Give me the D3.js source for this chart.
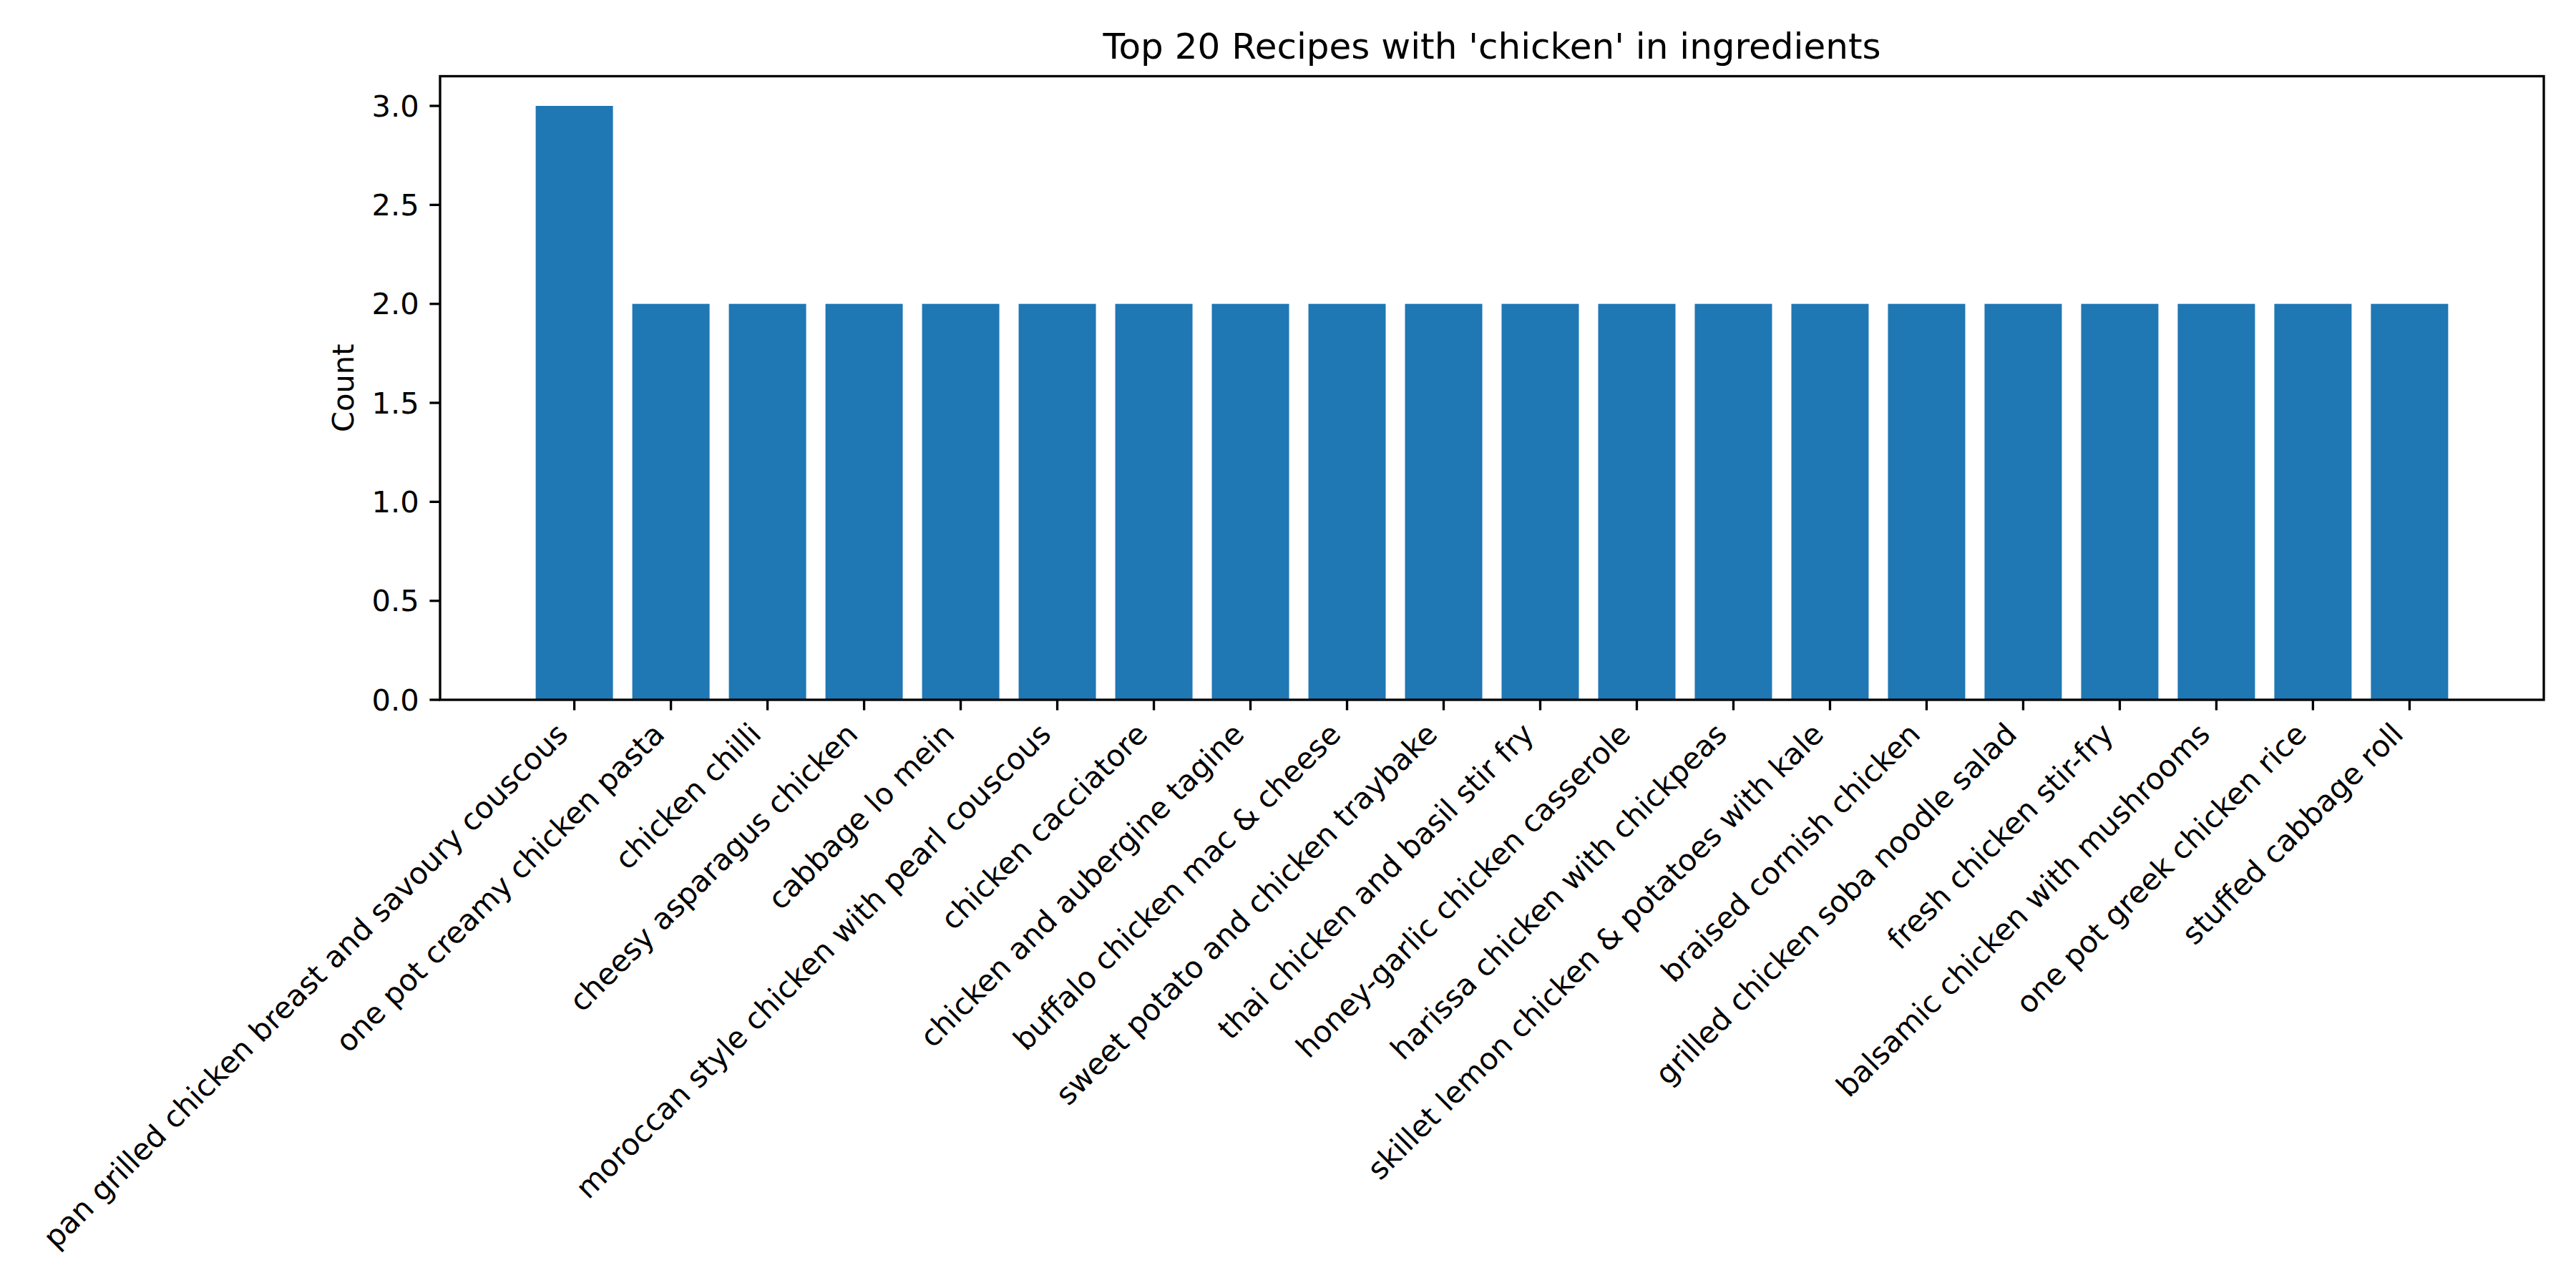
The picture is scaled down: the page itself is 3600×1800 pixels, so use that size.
<!DOCTYPE html>
<html>
<head>
<meta charset="utf-8">
<script src="https://cdn.jsdelivr.net/npm/d3@7"></script>
<style>
  html, body { margin: 0; padding: 0; background: #fff; }
  svg { display: block; }
  text { font-family: "DejaVu Sans", sans-serif; fill: #000; }
</style>
</head>
<body>
<svg id="chart" width="3600" height="1800"></svg>
<script>
const recipes = [
  "pan grilled chicken breast and savoury couscous",
  "one pot creamy chicken pasta",
  "chicken chilli",
  "cheesy asparagus chicken",
  "cabbage lo mein",
  "moroccan style chicken with pearl couscous",
  "chicken cacciatore",
  "chicken and aubergine tagine",
  "buffalo chicken mac & cheese",
  "sweet potato and chicken traybake",
  "thai chicken and basil stir fry",
  "honey-garlic chicken casserole",
  "harissa chicken with chickpeas",
  "skillet lemon chicken & potatoes with kale",
  "braised cornish chicken",
  "grilled chicken soba noodle salad",
  "fresh chicken stir-fry",
  "balsamic chicken with mushrooms",
  "one pot greek chicken rice",
  "stuffed cabbage roll"
];
const counts = [3, 2, 2, 2, 2, 2, 2, 2, 2, 2, 2, 2, 2, 2, 2, 2, 2, 2, 2, 2];
const yTicks = [0.0, 0.5, 1.0, 1.5, 2.0, 2.5, 3.0];
const titleText = "Top 20 Recipes with 'chicken' in ingredients";
const yLabelText = "Count";

const svg = d3.select("#chart");
const L = 615, R = 3555, T = 106.5, B = 978;
const fs = 41.67;
const tickLen = 14.58, pad = 14.58, lw = 3.33;
const barColor = "#1f77b4";

const n = recipes.length;
const bw = 0.8;
const dataMin = -bw / 2, dataMax = n - 1 + bw / 2;
const m = (dataMax - dataMin) * 0.05;
const x = d3.scaleLinear().domain([dataMin - m, dataMax + m]).range([L, R]);
const ymax = d3.max(counts) * 1.05;
const y = d3.scaleLinear().domain([0, ymax]).range([B, T]);

// bars
svg.append("g").selectAll("rect").data(counts).join("rect")
  .attr("x", (d, i) => x(i - bw / 2))
  .attr("width", (d, i) => x(i + bw / 2) - x(i - bw / 2))
  .attr("y", d => y(d))
  .attr("height", d => y(0) - y(d))
  .attr("fill", barColor);

// y axis ticks
const yg = svg.append("g");
yTicks.forEach(t => {
  yg.append("line")
    .attr("x1", L - tickLen).attr("x2", L)
    .attr("y1", y(t)).attr("y2", y(t))
    .attr("stroke", "#000").attr("stroke-width", lw);
  yg.append("text")
    .attr("x", L - tickLen - pad)
    .attr("y", y(t) + 0.35 * fs)
    .attr("text-anchor", "end")
    .attr("font-size", fs)
    .text(t.toFixed(1));
});

// x axis ticks and labels
const xg = svg.append("g");
recipes.forEach((r, i) => {
  const tx = x(i);
  xg.append("line")
    .attr("x1", tx).attr("x2", tx)
    .attr("y1", B).attr("y2", B + tickLen)
    .attr("stroke", "#000").attr("stroke-width", lw);
  const ax = tx - 6.5, ay = B + tickLen + pad + 21.5;
  xg.append("text")
    .attr("transform", `translate(${ax},${ay}) rotate(-45)`)
    .attr("text-anchor", "end")
    .attr("font-size", fs)
    .text(r);
});

// spines
svg.append("rect")
  .attr("x", L).attr("y", T)
  .attr("width", R - L).attr("height", B - T)
  .attr("fill", "none").attr("stroke", "#000").attr("stroke-width", lw)
  .attr("stroke-linejoin", "miter");

// y label
svg.append("text")
  .attr("transform", `translate(494,${(T + B) / 2}) rotate(-90)`)
  .attr("text-anchor", "middle")
  .attr("font-size", fs)
  .text(yLabelText);

// title
svg.append("text")
  .attr("x", (L + R) / 2)
  .attr("y", T - 25)
  .attr("text-anchor", "middle")
  .attr("font-size", 50)
  .text(titleText);
</script>
</body>
</html>
